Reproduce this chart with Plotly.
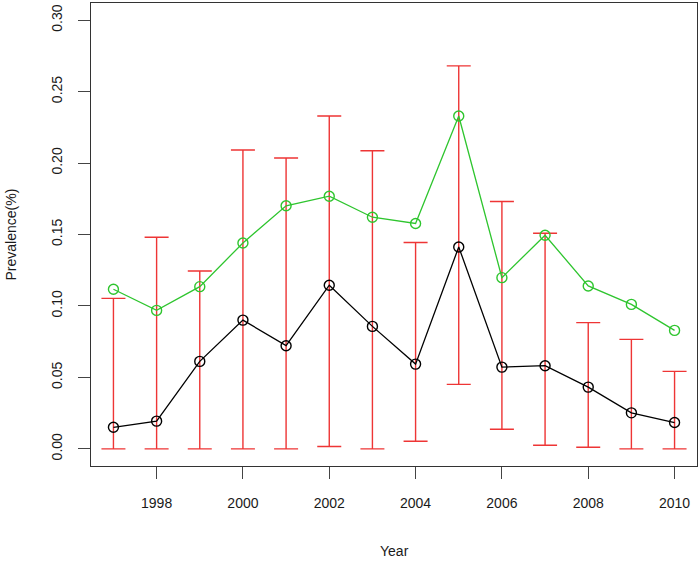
import plotly.graph_objects as go

years = [1997, 1998, 1999, 2000, 2001, 2002, 2003, 2004, 2005, 2006, 2007, 2008, 2009, 2010]
prev_black = [0.0151, 0.0194, 0.0612, 0.0901, 0.0722, 0.1145, 0.0857, 0.0593, 0.1413, 0.0572, 0.0582, 0.0432, 0.0252, 0.0184]
prev_green = [0.1117, 0.0969, 0.1135, 0.1441, 0.1701, 0.1768, 0.1621, 0.1577, 0.2329, 0.1198, 0.1495, 0.1140, 0.1011, 0.0829]
ci_upper = [0.1053, 0.1481, 0.1245, 0.2091, 0.2035, 0.2329, 0.2086, 0.1444, 0.2680, 0.1731, 0.1509, 0.0883, 0.0766, 0.0542]
ci_lower = [0.0, 0.0, 0.0, 0.0, 0.0, 0.0016, 0.0, 0.0053, 0.0451, 0.0137, 0.0025, 0.0011, 0.0, 0.0]

x_ticks = [1998, 2000, 2002, 2004, 2006, 2008, 2010]
y_ticks = [0.00, 0.05, 0.10, 0.15, 0.20, 0.25, 0.30]

RED = "#ee3535"
GREEN = "#2ec52e"
FONT = "Liberation Sans, Arial, sans-serif"
TXT = "#1a1a1a"

fig = go.Figure()

fig.add_trace(go.Scatter(
    x=years, y=prev_black, mode="markers",
    marker=dict(size=1, color="rgba(0,0,0,0)"),
    error_y=dict(
        type="data", symmetric=False,
        array=[u - b for u, b in zip(ci_upper, prev_black)],
        arrayminus=[b - l for b, l in zip(prev_black, ci_lower)],
        color=RED, thickness=1.4, width=12,
    ),
    showlegend=False, hoverinfo="skip",
))

fig.add_trace(go.Scatter(
    x=years, y=prev_green, mode="lines+markers",
    line=dict(color=GREEN, width=1.3),
    marker=dict(symbol="circle-open", size=10, color=GREEN, line=dict(width=1.4, color=GREEN)),
    showlegend=False,
))

fig.add_trace(go.Scatter(
    x=years, y=prev_black, mode="lines+markers",
    line=dict(color="black", width=1.3),
    marker=dict(symbol="circle-open", size=10, color="black", line=dict(width=1.4, color="black")),
    showlegend=False,
))

fig.update_layout(
    width=700, height=561,
    margin=dict(l=91, r=3, t=3, b=95),
    paper_bgcolor="white", plot_bgcolor="white",
    font=dict(family=FONT, size=14, color=TXT),
    xaxis=dict(
        range=[1996.48, 2010.52], tickmode="array", tickvals=x_ticks,
        ticktext=[str(t) for t in x_ticks],
        showgrid=False, zeroline=False,
        showline=True, mirror=True, linecolor="#333333", linewidth=1.3,
        ticks="outside", ticklen=12, tickcolor="#444444", tickwidth=1.3,
        ticklabelstandoff=12,
    ),
    yaxis=dict(
        range=[-0.012, 0.312], tickmode="array", tickvals=y_ticks,
        ticktext=[f"{t:.2f}" for t in y_ticks], tickangle=-90,
        showgrid=False, zeroline=False,
        showline=True, mirror=True, linecolor="#333333", linewidth=1.3,
        ticks="outside", ticklen=12, tickcolor="#444444", tickwidth=1.3,
        ticklabelstandoff=10,
    ),
    annotations=[
        dict(text="Year", xref="paper", yref="paper", x=0.5, y=0, yanchor="middle",
             yshift=-85, showarrow=False, font=dict(family=FONT, size=14, color=TXT)),
        dict(text="Prevalence(%)", xref="paper", yref="paper", x=0, y=0.5, xanchor="center",
             xshift=-81, textangle=-90, showarrow=False, font=dict(family=FONT, size=14, color=TXT)),
    ],
)

fig.write_html("out.html", config={"displayModeBar": False},
               post_script="document.body.style.margin='0px';document.body.style.overflow='hidden';")
